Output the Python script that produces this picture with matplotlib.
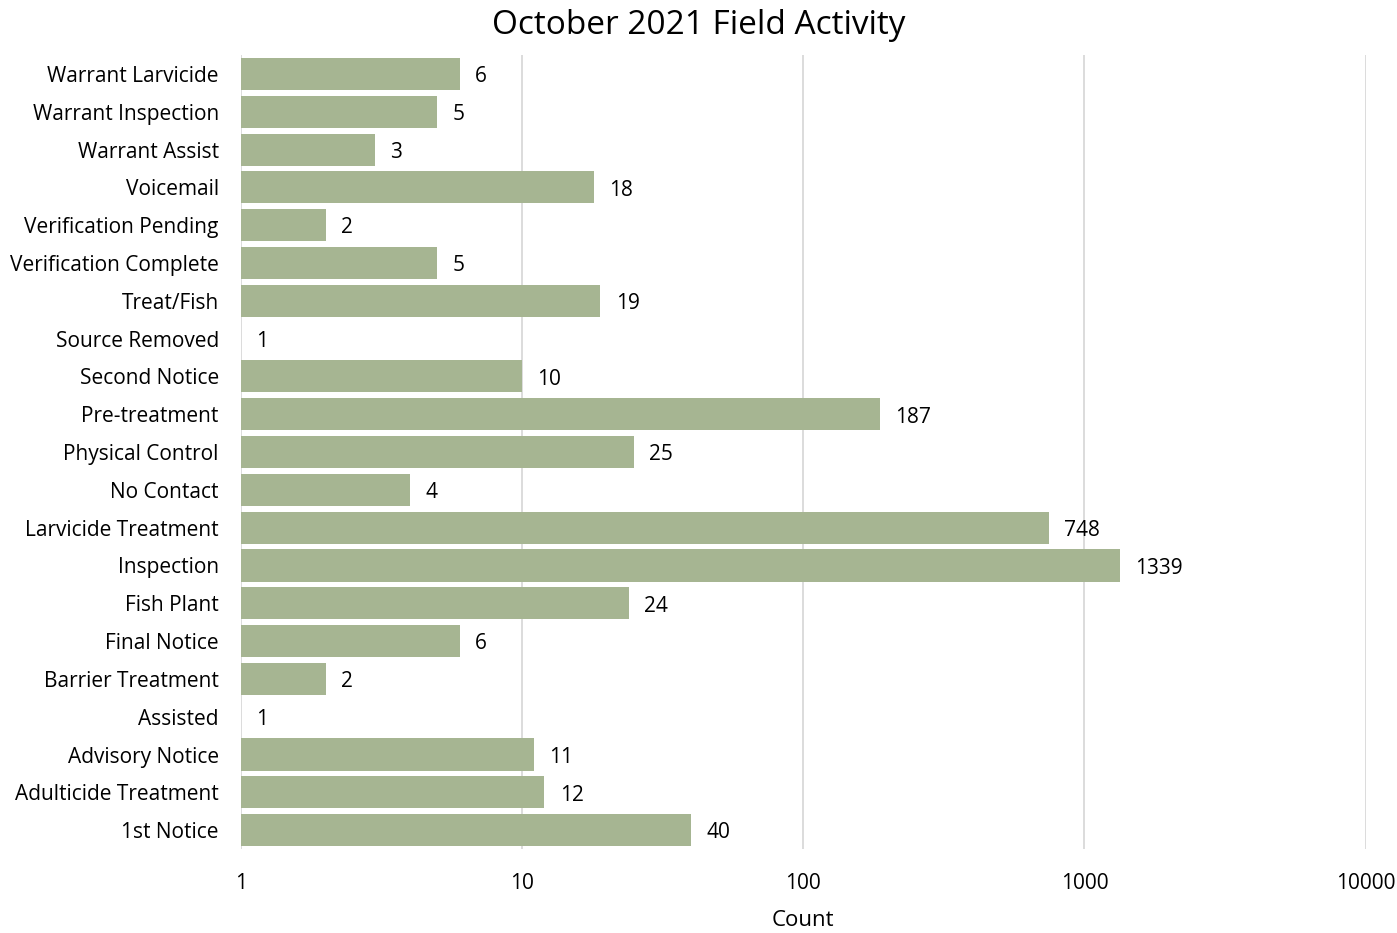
import matplotlib.pyplot as plt
import numpy as np

categories = ['Warrant Larvicide', 'Warrant Inspection', 'Warrant Assist', 'Voicemail',
              'Verification Pending', 'Verification Complete', 'Treat/Fish', 'Source Removed',
              'Second Notice', 'Pre-treatment', 'Physical Control', 'No Contact',
              'Larvicide Treatment', 'Inspection', 'Fish Plant', 'Final Notice',
              'Barrier Treatment', 'Assisted', 'Advisory Notice', 'Adulticide Treatment',
              '1st Notice']
counts = [6, 5, 3, 18, 2, 5, 19, 1, 10, 187, 25, 4, 748, 1339, 24, 6, 2, 1, 11, 12, 40]
x_ticks = [1, 10, 100, 1000, 10000]

plt.rcParams['font.family'] = ['Open Sans', 'DejaVu Sans']

fig = plt.figure(figsize=(13.97, 9.33), dpi=100)
ax = fig.add_axes([0.1725, 0.090, 0.805, 0.851])

y = np.arange(len(categories))
widths = np.array(counts) - 1
ax.barh(y, widths, left=1, height=0.85, color='#A6B592', zorder=2)

ax.set_xscale('log')
ax.set_xlim(1, 10000)
ax.set_ylim(len(categories) - 0.5, -0.5)
ax.set_yticks(y)
ax.set_yticklabels(categories, fontsize=15)
ax.set_xticks(x_ticks)
ax.set_xticklabels([str(t) for t in x_ticks], fontsize=15)
ax.minorticks_off()
ax.tick_params(axis='both', length=0)
ax.tick_params(axis='y', pad=16)
ax.tick_params(axis='x', pad=17)
ax.grid(axis='x', color='#D9D9D9', linewidth=1.3, zorder=0)
for s in ax.spines.values():
    s.set_visible(False)

for yi, c in zip(y, counts):
    ax.annotate(str(c), (c, yi), xytext=(11, -2), textcoords='offset points',
                va='center', ha='left', fontsize=15)

ax.set_xlabel('Count', fontsize=16, labelpad=12)
fig.suptitle('October 2021 Field Activity', fontsize=24, y=0.99)

fig.savefig('out.png', dpi=100)
